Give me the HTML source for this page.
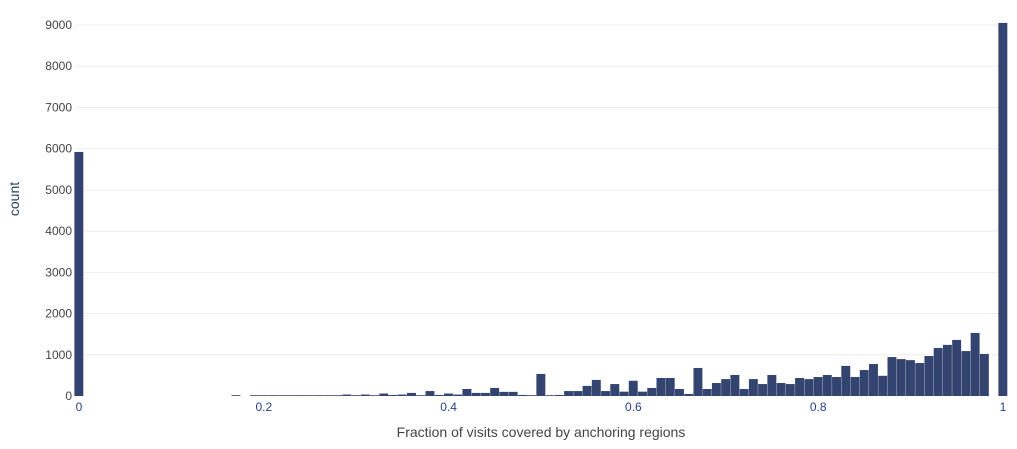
<!DOCTYPE html>
<html><head><meta charset="utf-8"><style>
body{margin:0;background:#fff;font-family:"Liberation Sans",Arial,sans-serif}
svg text{font-family:"Liberation Sans",Arial,sans-serif}
</style></head><body>
<svg id="chart" width="1017" height="444" xmlns="http://www.w3.org/2000/svg">
<g id="grid"></g>
<g id="bars"></g>
<g id="yticks"></g>
<g id="xticks"></g>
<text x="541" y="437" text-anchor="middle" font-size="14" fill="#444">Fraction of visits covered by anchoring regions</text>
<text transform="translate(19,199) rotate(-90)" text-anchor="middle" font-size="14" fill="#2a3f5f">count</text>
</svg>
<script>
const binStarts=[0,0.01,0.02,0.03,0.04,0.05,0.06,0.07,0.08,0.09,0.1,0.11,0.12,0.13,0.14,0.15,0.16,0.17,0.18,0.19,0.2,0.21,0.22,0.23,0.24,0.25,0.26,0.27,0.28,0.29,0.3,0.31,0.32,0.33,0.34,0.35,0.36,0.37,0.38,0.39,0.4,0.41,0.42,0.43,0.44,0.45,0.46,0.47,0.48,0.49,0.5,0.51,0.52,0.53,0.54,0.55,0.56,0.57,0.58,0.59,0.6,0.61,0.62,0.63,0.64,0.65,0.66,0.67,0.68,0.69,0.7,0.71,0.72,0.73,0.74,0.75,0.76,0.77,0.78,0.79,0.8,0.81,0.82,0.83,0.84,0.85,0.86,0.87,0.88,0.89,0.9,0.91,0.92,0.93,0.94,0.95,0.96,0.97,0.98,0.99,1];
const counts=[5920,0,0,0,0,0,0,0,0,0,0,0,0,0,0,0,0,20,0,10,10,10,10,10,10,10,10,10,10,35,10,35,10,60,25,35,75,15,120,25,60,35,170,75,75,195,100,100,25,5,535,5,25,120,120,245,390,120,290,105,370,105,195,437,437,170,50,680,170,315,410,510,170,410,290,510,315,290,437,410,460,510,460,730,460,630,775,490,945,895,870,800,970,1165,1240,1360,1090,1530,1020,0,9050];
const yTicks=[0,1000,2000,3000,4000,5000,6000,7000,8000,9000];
const xTicks=[0,0.2,0.4,0.6,0.8,1];
const xTickLabels=["0","0.2","0.4","0.6","0.8","1"];
const NS="http://www.w3.org/2000/svg";
const X0=79,X1=1003,Y0=396,YS=371/9000,L=75,R=1007;
const xs=v=>X0+(X1-X0)*v, ys=v=>Y0-v*YS;
const grid=document.getElementById('grid'),bars=document.getElementById('bars'),yt=document.getElementById('yticks'),xt=document.getElementById('xticks');
yTicks.forEach(t=>{
 if(t>0){const l=document.createElementNS(NS,'line');
 
 
 l.setAttribute('x1',L);l.setAttribute('x2',R);l.setAttribute('y1',ys(t));l.setAttribute('y2',ys(t));l.setAttribute('stroke','#eeeeee');grid.appendChild(l);}
 const tx=document.createElementNS(NS,'text');
 
 
 tx.setAttribute('x',72);tx.setAttribute('y',ys(t)+4);tx.setAttribute('text-anchor','end');tx.setAttribute('font-size','12');tx.setAttribute('fill','#444');tx.textContent=t;yt.appendChild(tx);
});
const w=(X1-X0)*0.01;
binStarts.forEach((b,i)=>{
 if(!counts[i])return;
 const r=document.createElementNS(NS,'rect');
 
 
 const cx=xs(b);
 r.setAttribute('x',cx-w/2);r.setAttribute('width',w-0.3);
 const h=Math.max(counts[i]*YS,0.8);
 r.setAttribute('y',Y0-h);r.setAttribute('height',h);r.setAttribute('fill','#344470');bars.appendChild(r);
});
xTicks.forEach((t,i)=>{
 const tx=document.createElementNS(NS,'text');
 
 
 tx.setAttribute('x',xs(t));tx.setAttribute('y',411);tx.setAttribute('text-anchor','middle');tx.setAttribute('font-size','12');tx.setAttribute('fill','#2a3f8f');tx.textContent=xTickLabels[i];xt.appendChild(tx);
});
</script>
</body></html>
